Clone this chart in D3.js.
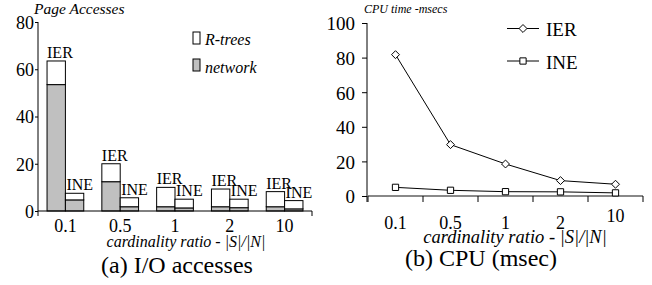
<!DOCTYPE html>
<html>
<head>
<meta charset="utf-8">
<script src="https://cdn.jsdelivr.net/npm/d3@7"></script>
<style>
  body { margin: 0; background: #fff; }
  svg { display: block; }
</style>
</head>
<body>
<svg id="chart" width="652" height="285"></svg>
<script>
// categories (cardinality ratio |S|/|N|)
const ratios = ['0.1', '0.5', '1', '2', '10']

// (a) page accesses, split in network / R-trees parts
const ierNetwork = [53.5, 12.4, 1.8, 1.8, 1.8]
const ierRtrees = [10, 7.6, 8.2, 7.5, 6.4]
const ineNetwork = [4.7, 1.8, 1.3, 1.4, 0.9]
const ineRtrees = [2.8, 3.8, 3.7, 3.6, 3.5]
const ioTicks = [0, 20, 40, 60, 80]

// (b) CPU time in msecs
const ierCpu = [81.7, 29.7, 18.5, 8.9, 6.8]
const ineCpu = [5.0, 3.3, 2.5, 2.4, 1.8]
const cpuTicks = [0, 20, 40, 60, 80, 100]

const svg = d3.select('#chart')
const grey = '#c0c0c0'
const serif = "'Liberation Serif'"

// ---------- left chart: stacked bars ----------
const yL = d3.scaleLinear().domain([0, 80]).range([211, 22])
const xL = d3.scaleBand().domain(ratios).range([38, 312])
    .paddingInner(0.33).paddingOuter(0.165)
const xSub = d3.scaleBand().domain(['IER', 'INE']).range([0, xL.bandwidth()])

const left = svg.append('g')

const groups = [
    { name: 'IER', net: ierNetwork, rt: ierRtrees },
    { name: 'INE', net: ineNetwork, rt: ineRtrees }
]

groups.forEach(function (s) {
    ratios.forEach(function (r, i) {
        const x0 = xL(r) + xSub(s.name)
        const w = xSub.bandwidth()
        const total = s.net[i] + s.rt[i]
        // network part
        left.append('rect')
            .attr('x', x0).attr('y', yL(s.net[i]))
            .attr('width', w).attr('height', yL(0) - yL(s.net[i]))
            .attr('fill', grey).attr('stroke', '#000').attr('stroke-width', 1)
        // R-trees part
        left.append('rect')
            .attr('x', x0).attr('y', yL(total))
            .attr('width', w).attr('height', yL(s.net[i]) - yL(total))
            .attr('fill', '#fff').attr('stroke', '#000').attr('stroke-width', 1)
        left.append('text')
            .attr('x', x0 + (s.name === 'INE' ? 1 : 0))
            .attr('y', yL(total) - 3)
            .attr('font-size', 16)
            .text(s.name)
    })
})

// y axis
const yAxisL = d3.axisLeft(yL).tickValues(ioTicks).tickSize(3).tickPadding(1)
const gyL = left.append('g').attr('transform', 'translate(38,0)').call(yAxisL)
gyL.select('.domain').remove()
gyL.selectAll('text').attr('font-size', 18).attr('dy', '0.36em')
left.append('line').attr('x1', 38).attr('x2', 38).attr('y1', yL(80)).attr('y2', 216)
    .attr('stroke', '#000')

// x axis: only a line with an end tick
left.append('line').attr('x1', 38).attr('x2', 312).attr('y1', yL(0)).attr('y2', yL(0))
    .attr('stroke', '#000')
left.append('line').attr('x1', 312).attr('x2', 312).attr('y1', yL(0)).attr('y2', 216)
    .attr('stroke', '#000')
left.selectAll('.xlab')
    .data(ratios)
    .enter()
    .append('text')
    .attr('class', 'xlab')
    .attr('x', d => xL(d) + xL.bandwidth() / 2)
    .attr('y', 232)
    .attr('text-anchor', 'middle')
    .attr('font-size', 18)
    .text(d => d)

left.append('text').attr('x', 186).attr('y', 247).attr('text-anchor', 'middle')
    .attr('font-size', 16).attr('font-style', 'italic')
    .text('cardinality ratio - |S|/|N|')
left.append('text').attr('x', 177).attr('y', 273).attr('text-anchor', 'middle')
    .attr('font-size', 24)
    .text('(a) I/O accesses')
left.append('text').attr('x', 34).attr('y', 14).attr('font-size', 15.5)
    .attr('font-style', 'italic').text('Page Accesses')

// legend
const legL = [{ label: 'R-trees', fill: '#fff' }, { label: 'network', fill: grey }]
legL.forEach(function (d, i) {
    const y = 32 + i * 27
    left.append('rect').attr('x', 193).attr('y', y).attr('width', 7).attr('height', 12)
        .attr('fill', d.fill).attr('stroke', '#000')
    left.append('text').attr('x', 205).attr('y', y + 13 + i).attr('font-size', 16)
        .attr('font-style', 'italic').text(d.label)
})

// ---------- right chart: lines ----------
const yR = d3.scaleLinear().domain([0, 100]).range([196, 23])
const xR = d3.scaleBand().domain(ratios).range([368, 643])
const cx = d => xR(d) + xR.bandwidth() / 2

const right = svg.append('g')

right.append('line').attr('x1', 368).attr('x2', 643).attr('y1', yR(0)).attr('y2', yR(0))
    .attr('stroke', '#888').attr('stroke-width', 2)
right.selectAll('.xtick')
    .data(ratios.concat(['end']))
    .enter()
    .append('line')
    .attr('x1', (d, i) => i < ratios.length ? xR(d) : 643)
    .attr('x2', (d, i) => i < ratios.length ? xR(d) : 643)
    .attr('y1', yR(0)).attr('y2', 202)
    .attr('stroke', '#000')

const yAxisR = d3.axisLeft(yR).tickValues(cpuTicks).tickSize(5).tickPadding(7)
const gyR = right.append('g').attr('transform', 'translate(367,0)').call(yAxisR)
gyR.select('.domain').remove()
gyR.selectAll('text').attr('font-size', 19).attr('dy', '0.36em')
right.append('line').attr('x1', 367).attr('x2', 367).attr('y1', yR(100)).attr('y2', 202)
    .attr('stroke', '#000')

right.selectAll('.xlab')
    .data(ratios)
    .enter()
    .append('text')
    .attr('x', d => cx(d))
    .attr('y', d => d === '10' ? 222 : 229)
    .attr('text-anchor', 'middle')
    .attr('font-size', 18)
    .text(d => d)

right.append('text').attr('x', 515).attr('y', 243).attr('text-anchor', 'middle')
    .attr('font-size', 18.5).attr('font-style', 'italic')
    .text('cardinality ratio - |S|/|N|')
right.append('text').attr('x', 481).attr('y', 266).attr('text-anchor', 'middle')
    .attr('font-size', 24)
    .text('(b) CPU (msec)')
right.append('text').attr('x', 364).attr('y', 13).attr('font-size', 12)
    .attr('font-style', 'italic').text('CPU time -msecs')

const line = d3.line().x((d, i) => cx(ratios[i])).y(d => yR(d))

const diamond = d3.symbol().type(d3.symbolDiamond2).size(40)
const square = d3.symbol().type(d3.symbolSquare2).size(50)

function drawSeries(values, sym) {
    right.append('path').datum(values).attr('d', line)
        .attr('fill', 'none').attr('stroke', '#000').attr('stroke-width', 1)
    right.selectAll(null)
        .data(values)
        .enter()
        .append('path')
        .attr('d', sym)
        .attr('transform', (d, i) => 'translate(' + cx(ratios[i]) + ',' + yR(d) + ')')
        .attr('fill', '#fff').attr('stroke', '#000').attr('stroke-width', 1)
}
drawSeries(ierCpu, diamond)
drawSeries(ineCpu, square)

// legend
const legR = [{ label: 'IER', sym: diamond }, { label: 'INE', sym: square }]
legR.forEach(function (d, i) {
    const y = 28.5 + i * 32.5
    right.append('line').attr('x1', 507).attr('x2', 539).attr('y1', y).attr('y2', y)
        .attr('stroke', '#000')
    right.append('path').attr('d', d.sym).attr('transform', 'translate(523,' + y + ')')
        .attr('fill', '#fff').attr('stroke', '#000')
    right.append('text').attr('x', 546).attr('y', y + 7.5).attr('font-size', 19)
        .text(d.label)
})

// all texts in a Times-like face
svg.selectAll('text').style('font-family', serif).style('fill', '#000')
</script>
</body>
</html>
